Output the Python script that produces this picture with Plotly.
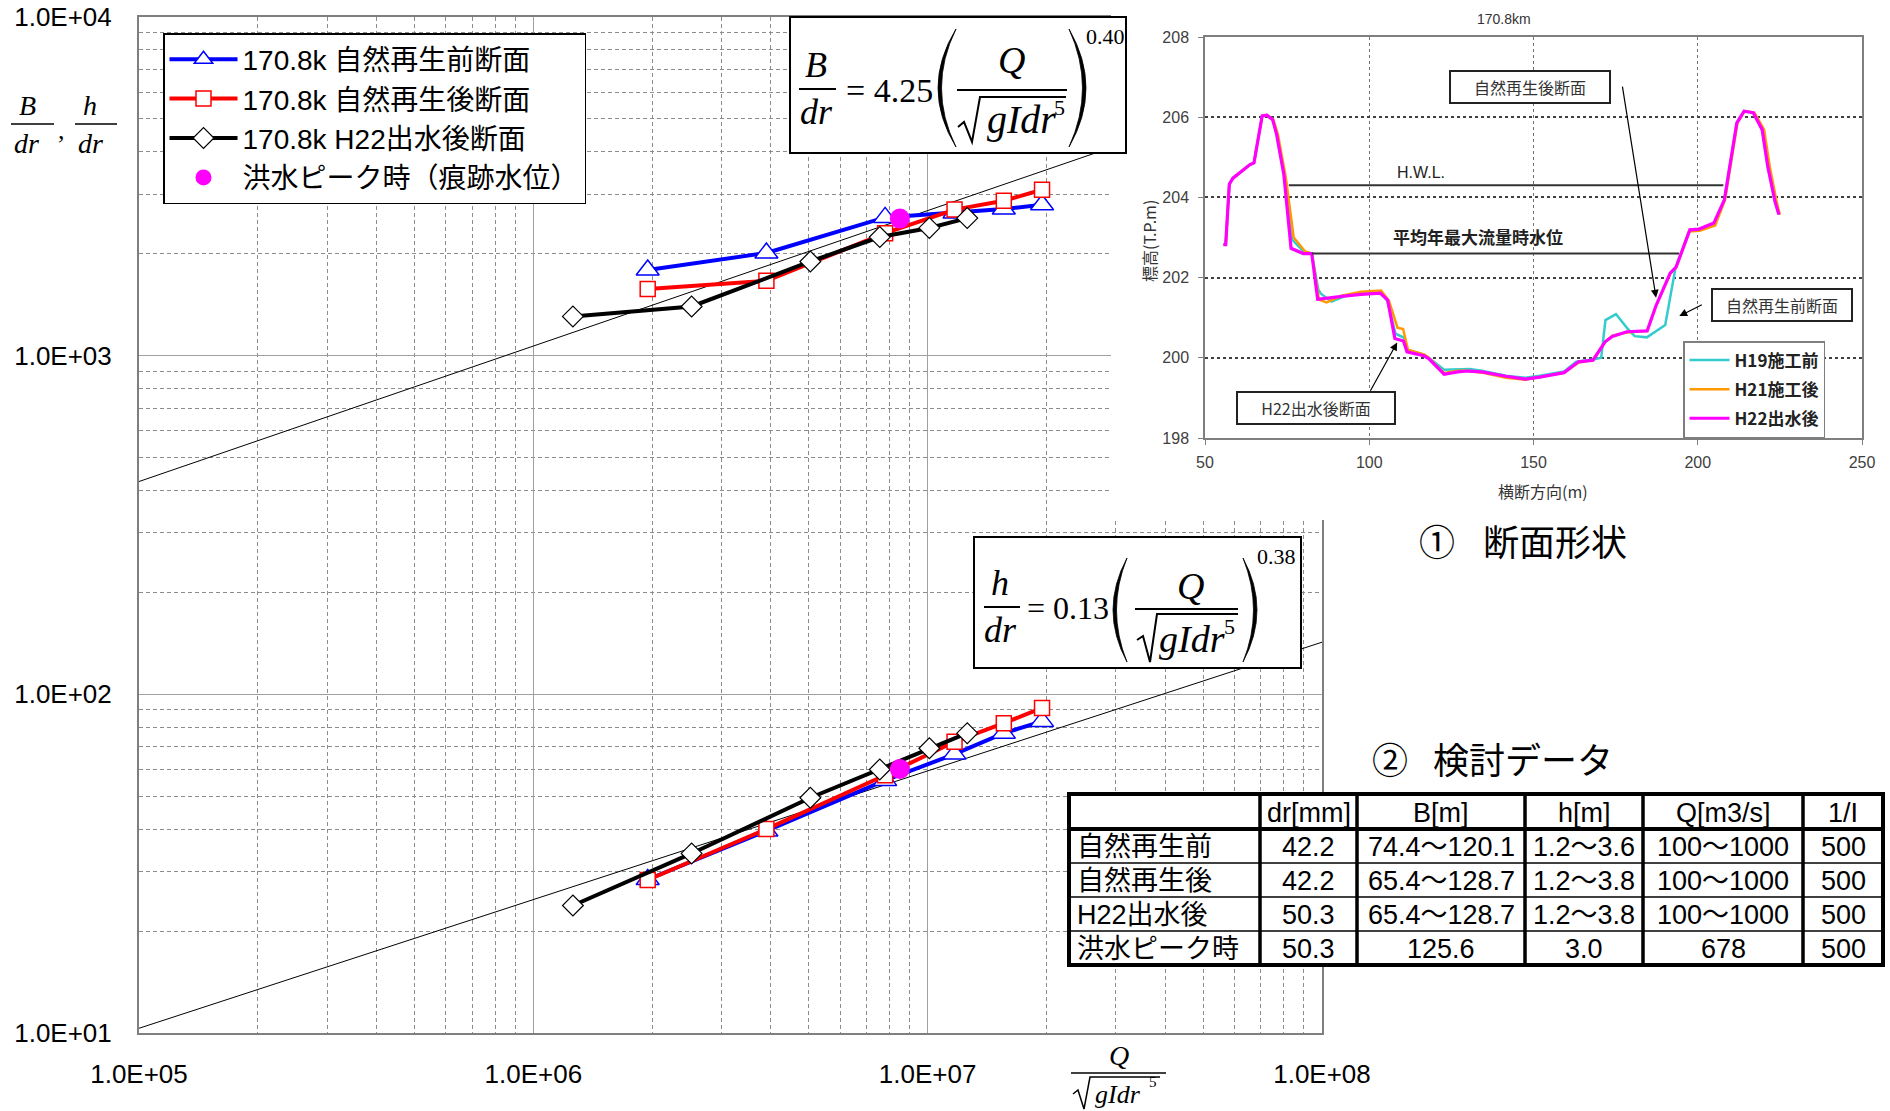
import plotly.graph_objects as go

# ---------------- main chart data (x = Q / sqrt(g I dr^5)) ----------------
before_x = [1.95e6, 3.9e6, 7.8e6, 1.17e7, 1.56e7, 1.95e7]
before_B = [1790, 2010, 2560, 2640, 2710, 2790]
before_h = [28.4, 39.5, 55.7, 66.6, 76.8, 83.2]

after_x = [1.95e6, 3.9e6, 7.8e6, 1.17e7, 1.56e7, 1.95e7]
after_B = [1574, 1663, 2300, 2700, 2866, 3090]
after_h = [28.3, 40.0, 57.7, 72.5, 82.2, 91.2]

h22_x = [1.26e6, 2.52e6, 5.04e6, 7.56e6, 1.01e7, 1.26e7]
h22_B = [1306, 1397, 1897, 2240, 2383, 2548]
h22_h = [23.8, 33.9, 49.5, 60.0, 69.3, 76.8]

peak_x = [8.5e6]
peak_B = [2540]
peak_h = [60.2]

fit_x = [1e5, 1e8]
fit_B = [4.25, 0.40]   # coefficient, exponent
fit_h = [0.13, 0.38]

x_tick_vals = [1e5, 1e6, 1e7, 1e8]
x_tick_text = ["1.0E+05", "1.0E+06", "1.0E+07", "1.0E+08"]
y_tick_vals = [1e1, 1e2, 1e3, 1e4]
y_tick_text = ["1.0E+01", "1.0E+02", "1.0E+03", "1.0E+04"]

series_names = ["170.8k 自然再生前断面", "170.8k 自然再生後断面", "170.8k H22出水後断面", "洪水ピーク時（痕跡水位）"]

# ---------------- inset cross-section data (170.8km) ----------------
h19_x = [55.6, 56.3, 57.4, 58.5, 63.7, 64.9, 67.4, 68.8, 70.6, 71.8, 74.2, 76.5, 80.0, 82.5, 84.5, 85.3,
         88.5, 93.0, 98.0, 103.6, 105.5, 108.0, 110.6, 111.6, 116.8, 118.1, 122.8, 127.0, 130.5, 134.3,
         141.6, 147.5, 151.9, 159.3, 163.0, 168.1, 170.6, 171.9, 175.1, 178.5, 180.8, 184.5, 190.1,
         193.2, 197.5, 200.4, 204.9, 208.1, 211.9, 214.1, 216.9, 219.6, 221.3, 223.5, 224.7]
h19_z = [202.82, 202.82, 204.33, 204.48, 204.82, 204.86, 206.03, 206.05, 205.94, 205.57, 204.5, 202.95,
         202.65, 202.6, 201.7, 201.6, 201.4, 201.55, 201.6, 201.62, 201.42, 200.6, 200.5, 200.2, 200.07,
         200.0, 199.7, 199.72, 199.72, 199.68, 199.55, 199.5, 199.55, 199.66, 199.9, 199.96, 200.0,
         200.94, 201.09, 200.74, 200.54, 200.51, 200.82, 202.23, 203.17, 203.2, 203.32, 203.94, 205.86,
         206.15, 206.11, 205.69, 204.78, 203.9, 203.57]

h21_x = [55.6, 56.3, 57.4, 58.5, 63.7, 64.9, 67.4, 68.8, 70.8, 72.2, 74.6, 77.0, 80.5, 82.5, 84.7, 87.0,
         91.6, 97.5, 103.6, 106.0, 108.6, 110.3, 111.8, 116.8, 118.1, 122.8, 126.9, 130.0, 134.3, 141.6,
         147.5, 151.9, 159.3, 163.7, 168.1, 171.8, 174.0, 178.4, 184.6, 187.3, 191.8, 193.5, 197.3,
         200.6, 205.3, 208.3, 212.1, 214.3, 217.3, 220.2, 221.9, 224.0, 225.0]
h21_z = [202.82, 202.82, 204.33, 204.48, 204.82, 204.86, 206.03, 206.05, 205.94, 205.57, 204.5, 203.0,
         202.65, 202.6, 201.45, 201.38, 201.55, 201.65, 201.68, 201.42, 200.75, 200.72, 200.2, 200.08,
         200.0, 199.62, 199.68, 199.68, 199.63, 199.5, 199.45, 199.52, 199.63, 199.88, 199.94, 200.4,
         200.55, 200.63, 200.67, 201.3, 202.12, 202.27, 203.15, 203.17, 203.3, 203.94, 205.86, 206.15,
         206.11, 205.69, 204.78, 203.9, 203.57]

h22s_x = [55.6, 56.3, 57.4, 58.5, 63.7, 64.9, 67.4, 68.8, 70.6, 71.8, 74.0, 76.2, 79.9, 82.5, 84.3, 85.7,
          91.6, 97.5, 103.4, 105.6, 107.8, 110.4, 111.5, 116.6, 118.1, 122.8, 126.9, 129.9, 134.3, 141.6,
          147.5, 151.9, 159.3, 163.7, 168.1, 171.8, 174.0, 178.4, 184.6, 187.2, 191.6, 193.4, 197.6,
          200.4, 204.9, 208.1, 211.9, 214.1, 216.9, 219.6, 221.3, 223.5, 224.7]
h22s_z = [202.82, 202.82, 204.33, 204.48, 204.82, 204.86, 206.03, 206.05, 205.94, 205.57, 204.57, 202.73,
          202.6, 202.6, 201.46, 201.47, 201.53, 201.58, 201.61, 201.44, 200.48, 200.42, 200.15, 200.05,
          199.98, 199.59, 199.65, 199.67, 199.65, 199.54, 199.47, 199.52, 199.63, 199.9, 199.94, 200.4,
          200.53, 200.65, 200.67, 201.28, 202.11, 202.26, 203.19, 203.21, 203.36, 203.94, 205.86, 206.15,
          206.11, 205.69, 204.78, 203.9, 203.57]

inset_names = ["H19施工前", "H21施工後", "H22出水後"]
hwl_level = [75.5, 207.8, 204.3]        # x from, x to, elevation
mean_flood_level = [82.5, 194.3, 202.6]

# ---------------- table ----------------
table_header = ["", "dr[mm]", "B[m]", "h[m]", "Q[m3/s]", "1/I"]
table_rows = ["自然再生前", "自然再生後", "H22出水後", "洪水ピーク時"]
col_dr = ["42.2", "42.2", "50.3", "50.3"]
col_B = ["74.4～120.1", "65.4～128.7", "65.4～128.7", "125.6"]
col_h = ["1.2～3.6", "1.2～3.8", "1.2～3.8", "3.0"]
col_Q = ["100～1000", "100～1000", "100～1000", "678"]
col_I = ["500", "500", "500", "500"]

# ---------------- helpers ----------------
W, H = 1890, 1111
def px(x): return x / W
def py(y): return 1 - y / H

SANS = "Liberation Sans, Noto Sans CJK JP, sans-serif"
SERIF = "Liberation Serif, serif"
CJK = "Noto Sans CJK JP, Liberation Sans, sans-serif"

annotations = []
shapes = []

def text(x, y, s, size, family=SANS, color="black", xanchor="center", yanchor="middle", **kw):
    annotations.append(dict(x=px(x), y=py(y), xref="paper", yref="paper", text=s, showarrow=False,
                            font=dict(size=size, family=family, color=color),
                            xanchor=xanchor, yanchor=yanchor, **kw))

def hline(x0, x1, y, width=2, color="black"):
    shapes.append(dict(type="line", xref="paper", yref="paper", x0=px(x0), x1=px(x1), y0=py(y), y1=py(y),
                       line=dict(color=color, width=width), layer="above"))

def vline(x, y0, y1, width=2, color="black"):
    shapes.append(dict(type="line", xref="paper", yref="paper", x0=px(x), x1=px(x), y0=py(y0), y1=py(y1),
                       line=dict(color=color, width=width), layer="above"))

def box(x0, y0, x1, y1, width=2):
    shapes.append(dict(type="rect", xref="paper", yref="paper", x0=px(x0), x1=px(x1), y0=py(y0), y1=py(y1),
                       line=dict(color="black", width=width), fillcolor="white", layer="above"))

def path(points, width=2):
    d = "M " + " L ".join(f"{px(a):.5f},{py(b):.5f}" for a, b in points)
    shapes.append(dict(type="path", xref="paper", yref="paper", path=d,
                       line=dict(color="black", width=width), layer="above"))

def paren(x_end, y_top, y_bot, x_mid, thick=7):
    cx = 2 * x_mid - x_end
    sgn = 1 if x_mid < x_end else -1
    cy = (y_top + y_bot) / 2
    d = (f"M {px(x_end):.5f},{py(y_top):.5f} Q {px(cx):.5f},{py(cy):.5f} {px(x_end):.5f},{py(y_bot):.5f} "
         f"Q {px(cx + sgn * thick):.5f},{py(cy):.5f} {px(x_end):.5f},{py(y_top):.5f} Z")
    shapes.append(dict(type="path", xref="paper", yref="paper", path=d, fillcolor="black",
                       line=dict(color="black", width=0.8), layer="above"))

fig = go.Figure()

# ---------------- main chart traces ----------------
for coef, expo in (fit_B, fit_h):
    fig.add_trace(go.Scatter(x=fit_x, y=[coef * v ** expo for v in fit_x], mode="lines",
                             line=dict(color="black", width=1), showlegend=False, hoverinfo="skip"))

series = [
    (series_names[0], before_x, before_B, before_h, "#0000ff", "triangle-up", 20, 1.5),
    (series_names[1], after_x, after_B, after_h, "#ff0000", "square", 15, 1.5),
    (series_names[2], h22_x, h22_B, h22_h, "#000000", "diamond", 16, 1.2),
]
for name, xs, yb, yh, color, symbol, size, lw in series:
    for ys, show in ((yb, True), (yh, False)):
        fig.add_trace(go.Scatter(x=xs, y=ys, mode="lines+markers", name=name, legendgroup=name,
                                 showlegend=show, line=dict(color=color, width=4),
                                 marker=dict(symbol=symbol, size=size, color="white",
                                             line=dict(color=color, width=lw))))
for ys, show in ((peak_B, True), (peak_h, False)):
    fig.add_trace(go.Scatter(x=peak_x, y=ys, mode="markers", name=series_names[3], legendgroup="peak",
                             showlegend=show, marker=dict(symbol="circle", size=20, color="#ff00ff")))

# white cover panel behind the inset
fig.add_trace(go.Scatter(x=[0.5], y=[0.5], xaxis="x2", yaxis="y2", mode="markers",
                         marker=dict(opacity=0), showlegend=False, hoverinfo="skip"))

# ---------------- inset traces ----------------
for name, xs, zs, color, width in ((inset_names[0], h19_x, h19_z, "#33cccc", 2.5),
                                   (inset_names[1], h21_x, h21_z, "#ff9900", 2.5),
                                   (inset_names[2], h22s_x, h22s_z, "#ff00ff", 3.2)):
    fig.add_trace(go.Scatter(x=xs, y=zs, xaxis="x3", yaxis="y3", mode="lines",
                             name=f"<b>{name}</b>",
                             legend="legend2", legendgroup=name, line=dict(color=color, width=width)))

# inset reference lines
for x0, x1, z in (hwl_level, mean_flood_level):
    shapes.append(dict(type="line", xref="x3", yref="y3", x0=x0, x1=x1, y0=z, y1=z,
                       line=dict(color="#333333", width=2), layer="above"))

annotations.append(dict(x=115.8, y=204.62, xref="x3", yref="y3", text="H.W.L.", showarrow=False,
                        font=dict(size=16, family=SANS, color="#222")))
annotations.append(dict(x=133, y=203.02, xref="x3", yref="y3", text="<b>平均年最大流量時水位</b>", showarrow=False,
                        font=dict(size=17, family=CJK, color="#222")))
for label, bx, bz, w in (("自然再生後断面", 148.9, 206.75, 150), ("自然再生前断面", 225.7, 201.32, 130),
                         ("H22出水後断面", 83.7, 198.74, 148)):
    annotations.append(dict(x=bx, y=bz, xref="x3", yref="y3", text=label, showarrow=False,
                            font=dict(size=16, family=CJK, color="#333"), bgcolor="white",
                            bordercolor="#222", borderwidth=2, borderpad=4, width=w, height=22))
for (hx, hz, tx, tz) in ((187.3, 201.5, 177.0, 206.8), (194.4, 201.04, 201.7, 201.34),
                         (108.5, 200.38, 100.1, 199.14)):
    annotations.append(dict(x=hx, y=hz, ax=tx, ay=tz, xref="x3", yref="y3", axref="x3", ayref="y3",
                            text="", showarrow=True, arrowhead=2, arrowsize=1.3, arrowwidth=1.2,
                            arrowcolor="black"))

text(1504, 19, "170.8km", 14, SANS, "#333")
text(1543, 491, "横断方向(m)", 16, CJK, "#333")
text(1149, 241, "標高(T.P.m)", 16, CJK, "#333", textangle=-90)

# ---------------- formula boxes ----------------
box(790, 17, 1126, 153)
text(816, 65, "<i>B</i>", 36, SERIF)
hline(799, 836, 89)
text(816, 112, "<i>dr</i>", 36, SERIF)
text(889, 90, "= 4.25", 34, SERIF)
paren(956, 29, 147, 938)
text(1012, 60, "<i>Q</i>", 38, SERIF)
hline(957, 1067, 90)
path([(958, 127), (964, 122), (972, 142), (980, 97), (1066, 97)], 2)
text(1021, 120, "<i>gIdr</i>", 40, SERIF)
text(1059, 107, "5", 22, SERIF)
paren(1069, 29, 147, 1086)
text(1105, 36, "0.40", 22, SERIF)

box(974, 537, 1301, 668)
text(1000, 583, "<i>h</i>", 36, SERIF)
hline(984, 1020, 607)
text(1000, 630, "<i>dr</i>", 36, SERIF)
text(1068, 608, "= 0.13", 32, SERIF)
paren(1127, 558, 662, 1113)
text(1190, 586, "<i>Q</i>", 38, SERIF)
hline(1135, 1238, 609)
path([(1137, 640), (1143, 636), (1150, 662), (1157, 614), (1238, 614)], 2)
text(1192, 639, "<i>gIdr</i>", 38, SERIF)
text(1229, 626, "5", 22, SERIF)
paren(1243, 558, 662, 1257)
text(1276, 556, "0.38", 22, SERIF)

# axis titles
text(27, 105, "<i>B</i>", 28, SERIF)
hline(11, 54, 124, 1.5)
text(26, 143, "<i>dr</i>", 28, SERIF)
text(61, 131, ",", 26, SERIF)
text(90, 105, "<i>h</i>", 28, SERIF)
hline(75, 117, 124, 1.5)
text(90, 143, "<i>dr</i>", 28, SERIF)

text(1119, 1055, "<i>Q</i>", 28, SERIF)
hline(1071, 1166, 1073, 1.5)
path([(1073, 1094), (1078, 1090), (1084, 1109), (1090, 1077), (1160, 1077)], 1.5)
text(1118, 1094, "<i>gIdr</i>", 26, SERIF)
text(1153, 1082, "5", 15, SERIF)

# headings
text(1417, 540, "①", 36, CJK, xanchor="left")
text(1481, 540, "断面形状", 36, CJK, xanchor="left")
text(1370, 758, "②", 36, CJK, xanchor="left")
text(1431, 758, "検討データ", 36, CJK, xanchor="left")

# ---------------- table ----------------
col_edges = [1069, 1260, 1357, 1525, 1643, 1803, 1883]
row_edges = [794, 829, 863, 897, 931, 965]
shapes.append(dict(type="rect", xref="paper", yref="paper", x0=px(col_edges[0]), x1=px(col_edges[-1]),
                   y0=py(row_edges[0]), y1=py(row_edges[-1]), fillcolor="white",
                   line=dict(color="black", width=4), layer="above"))
for r in row_edges[2:-1]:
    hline(col_edges[0], col_edges[-1], r, 1.5)
hline(col_edges[0], col_edges[-1], row_edges[1], 4)
for c in col_edges[1:-1]:
    vline(c, row_edges[0], row_edges[-1], 3.5)
for j, head in enumerate(table_header):
    if head:
        text((col_edges[j] + col_edges[j + 1]) / 2, (row_edges[0] + row_edges[1]) / 2 + 1, head, 27, SANS)
columns = [col_dr, col_B, col_h, col_Q, col_I]
for i, label in enumerate(table_rows):
    yc = (row_edges[i + 1] + row_edges[i + 2]) / 2 + 1
    text(col_edges[0] + 6, yc, label, 27, SANS, xanchor="left")
    for j, col in enumerate(columns):
        text((col_edges[j + 1] + col_edges[j + 2]) / 2, yc, col[i], 27, SANS)

# ---------------- layout ----------------
x_minor = [m * 10 ** e for e in range(5, 8) for m in range(2, 10)]
y_minor = [m * 10 ** e for e in range(1, 4) for m in range(2, 10)]

main_axis = dict(type="log", showgrid=True, gridcolor="#a0a0a0", gridwidth=1.2, ticks="",
                 showline=True, linecolor="#7f7f7f", linewidth=2, mirror=True, zeroline=False,
                 tickfont=dict(size=26, family=SANS, color="black"), automargin=False)
inset_axis = dict(showgrid=True, griddash="dot", ticks="outside", ticklen=5, tickcolor="#7f7f7f",
                  showline=True, linecolor="#7f7f7f", linewidth=1.5, mirror=True, zeroline=False,
                  tickfont=dict(size=16, family=SANS, color="#404040"), automargin=False)

fig.update_layout(
    width=W, height=H, template="none", margin=dict(l=0, r=0, t=0, b=0, pad=0),
    paper_bgcolor="white", plot_bgcolor="white",
    xaxis=dict(main_axis, domain=[px(139), px(1322)], range=[5, 8], tickmode="array",
               tickvals=x_tick_vals, ticktext=x_tick_text, ticklabelstandoff=17,
               minor=dict(tickmode="array", tickvals=x_minor, showgrid=True, gridcolor="#8c8c8c",
                          griddash="4px,3px", gridwidth=1, ticks="")),
    yaxis=dict(main_axis, domain=[py(1033), py(17)], range=[1, 4], tickmode="array",
               tickvals=y_tick_vals, ticktext=y_tick_text, ticklabelstandoff=20,
               minor=dict(tickmode="array", tickvals=y_minor, showgrid=True, gridcolor="#8c8c8c",
                          griddash="4px,3px", gridwidth=1, ticks="")),
    xaxis2=dict(domain=[px(1111), 1], anchor="y2", visible=False, range=[0, 1]),
    yaxis2=dict(domain=[py(520), 1], anchor="x2", visible=False, range=[0, 1]),
    xaxis3=dict(inset_axis, domain=[px(1205), px(1862)], anchor="y3", range=[50, 250], dtick=50,
                gridcolor="#707070", gridwidth=1, ticklabelstandoff=4),
    yaxis3=dict(inset_axis, domain=[py(438), py(37)], anchor="x3", range=[198, 208], dtick=2,
                gridcolor="#404040", gridwidth=1.5, ticklabelstandoff=6),
    legend=dict(x=px(163), y=py(33), xanchor="left", yanchor="top", bgcolor="white",
                bordercolor="black", borderwidth=1.5, font=dict(size=28, family=SANS, color="black"),
                itemwidth=68, tracegroupgap=0),
    legend2=dict(x=px(1683), y=py(341), xanchor="left", yanchor="top", bgcolor="white",
                 bordercolor="#7f7f7f", borderwidth=1.5, font=dict(size=17, family=CJK, color="#222"),
                 itemwidth=40, tracegroupgap=4),
    annotations=annotations, shapes=shapes, showlegend=True,
)

fig.write_html("out.html")
